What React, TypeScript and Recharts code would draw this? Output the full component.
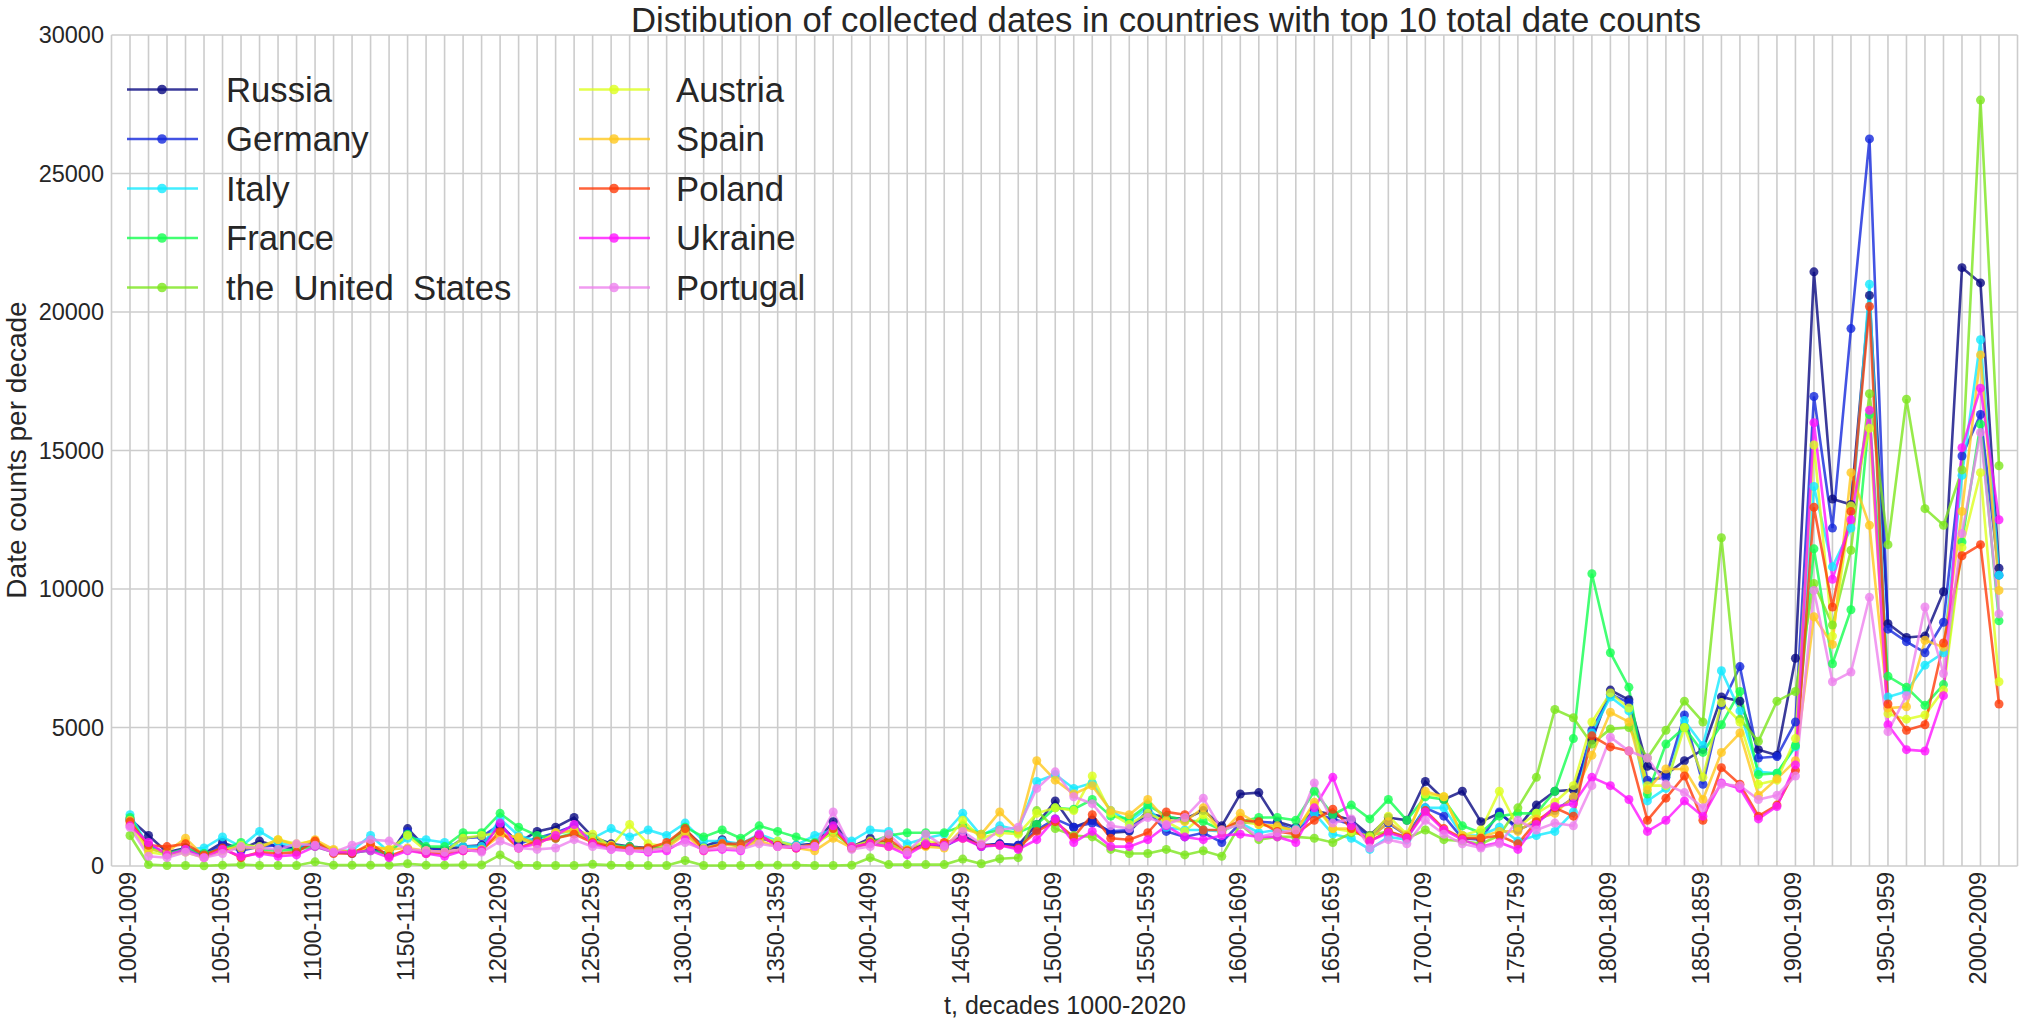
import React from 'react';
import { LineChart, Line, XAxis, YAxis, CartesianGrid, Legend } from 'recharts';

const DECADES: number[] = Array.from({ length: 102 }, (_, i) => 1000 + 10 * i);
const DECADE_LABELS: string[] = DECADES.map((d) => `${d}-${d + 9}`);

const SERIES_NAMES = ['Russia', 'Germany', 'Italy', 'France', 'the United States', 'Austria', 'Spain', 'Poland', 'Ukraine', 'Portugal'];
const SERIES_COLORS = ['#0a0a82', '#1428dc', '#14eaff', '#14ff50', '#7de61e', '#ddff1e', '#ffc81e', '#ff3c0a', '#ff14ff', '#ee82ee'];

const russia = [1700,1100,500,650,450,850,600,900,700,650,850,500,500,650,400,1350,650,600,700,750,1450,850,1250,1400,1750,1050,800,700,650,700,1300,700,950,650,1100,800,750,800,1600,700,1000,800,600,800,750,1100,750,800,750,1500,2350,1400,1650,1200,1250,1900,1750,1700,2000,1450,2600,2650,1600,1400,2000,1850,1650,1100,1750,1650,3050,2400,2700,1600,1900,1400,2200,2700,2750,4550,6350,6000,3600,3300,3800,4200,6100,5950,4200,4000,7500,21450,13250,13050,20600,8750,8250,8300,9900,21600,21050,10750];
const germany = [1650,750,450,550,400,750,550,700,750,600,800,500,450,600,450,1250,600,550,1000,1050,1500,800,1000,1200,1450,900,700,650,600,700,1200,650,850,700,1000,850,700,800,1400,650,850,800,550,800,700,1050,700,800,750,1300,1700,1400,1550,1250,1300,2000,1250,1050,1200,850,1550,1600,1550,1250,1900,1700,1500,1050,1550,1100,2100,1800,1000,950,1950,1300,1600,2000,2450,4900,6200,5900,3100,3200,5450,2950,5800,7200,3900,3950,5200,16950,12200,19400,26250,8550,8100,7700,8800,14800,16300,10500];
const italy = [1850,700,400,600,650,1050,700,1250,850,700,850,550,550,1100,500,1000,950,850,700,700,1700,1100,900,1150,1300,1000,1350,1050,1300,1100,1550,900,900,800,1150,900,750,1100,1300,900,1300,1250,800,1000,1150,1900,1100,1450,1300,3050,3300,2800,3000,2000,1600,2100,1400,1300,1300,1250,1550,1200,1300,1350,1900,1150,1000,600,1050,950,2100,2100,1100,1100,1400,900,1100,1250,1950,4800,6100,5600,2350,2800,5250,4350,7050,5600,3400,3350,4300,13700,10800,12200,21000,6100,6300,7250,7700,14100,19000,10500];
const france = [1750,650,450,600,450,600,850,600,550,600,700,500,500,550,450,1150,700,700,1200,1200,1900,1400,1100,1000,1200,950,750,700,600,750,1400,1050,1300,1000,1450,1250,1050,850,1200,700,850,1100,1200,1200,1200,1450,1150,1300,1200,1500,2100,2050,2400,1800,1700,2200,1800,1650,1600,1300,1600,1750,1750,1650,2700,1850,2200,1700,2400,1650,2500,2400,1450,1200,1800,1900,1900,2700,4600,10550,7700,6450,2600,4400,5000,4100,5100,6300,3300,3350,4350,11450,7300,9250,16300,6850,6450,5800,6550,11700,15950,8850];
const unitedStates = [1100,50,20,20,10,30,50,20,20,20,150,30,30,30,30,80,30,30,40,40,400,30,20,20,20,60,30,20,20,20,200,20,20,20,30,30,30,20,20,30,300,50,50,50,50,250,80,260,300,2000,1350,1100,1050,600,450,450,600,400,550,350,1500,950,1050,1050,1000,850,1200,1100,1250,1000,1300,950,900,800,1100,2100,3200,5650,5350,4400,4950,5000,3900,4900,5950,5200,11850,5300,4500,5950,6300,10200,8700,11400,17050,11600,16850,12900,12300,14300,27650,14450];
const austria = [1500,500,400,500,300,550,750,700,950,800,900,550,500,700,600,1100,550,500,1000,1100,1200,1000,750,1200,1250,1150,700,1500,800,700,1250,650,800,700,1000,900,700,750,1250,700,900,800,600,900,800,1650,1000,1200,1150,1900,2100,2000,3250,1900,1500,1900,1600,1250,1850,1250,1600,1500,1400,1300,2200,1350,1250,1050,1800,1150,2600,2500,1100,1300,2700,1400,1900,2300,2900,5200,6250,5700,2900,2900,5000,3200,5900,5200,2950,3100,4600,15200,8300,13000,15800,5500,5300,5450,6350,11500,14200,6650];
const spain = [1650,600,500,1000,350,600,650,650,950,750,950,600,500,700,600,650,550,500,600,600,1100,1050,800,1200,1300,900,750,600,600,650,1150,550,650,650,900,700,650,550,1000,650,800,700,550,700,650,1350,1150,1950,1300,3800,3100,2600,2900,2000,1850,2400,1650,1600,2100,1200,1900,1500,1450,1250,2300,1350,1350,950,1600,1100,2700,2500,1100,1050,1250,1250,1700,1900,2500,4000,5550,5200,2750,3500,3500,2400,4100,4800,2550,3150,3800,9000,8000,14200,12300,5700,5750,8150,7900,12800,18450,9950];
const poland = [1600,750,700,800,400,650,300,500,450,500,900,450,450,800,350,600,450,450,550,550,1250,650,900,1000,1150,850,700,650,650,850,1350,600,800,800,1100,750,650,800,1350,650,850,950,550,750,850,1000,750,750,650,1250,1600,1050,1850,1000,950,1200,1950,1850,1300,1300,1650,1600,1250,1150,1650,2050,1350,900,1250,1050,2000,1350,1000,1000,1100,800,1600,2100,1800,4700,4300,4150,1650,2450,3250,1650,3550,2950,1800,2200,3450,12950,9350,12800,20200,5850,4900,5100,8050,11200,11600,5850];
const ukraine = [1450,850,400,600,300,600,350,450,350,400,700,500,500,550,300,550,450,350,550,550,1550,650,800,1100,1500,800,600,550,500,550,950,550,600,550,1150,700,650,700,1450,700,800,700,400,800,750,1000,700,750,600,950,1700,850,1250,700,700,950,1450,1050,950,1100,1150,1050,1050,850,2100,3200,1450,900,1200,1000,1950,1300,950,700,850,600,1500,2150,2250,3200,2900,2400,1250,1650,2350,1800,3000,2800,1700,2150,3650,16000,10350,12500,16450,5100,4200,4150,6150,15100,17250,12500];
const portugal = [1400,350,300,500,300,450,700,650,600,800,750,500,750,950,900,600,550,500,600,500,900,650,600,650,950,700,600,550,550,650,850,600,650,600,800,700,700,700,1950,600,700,1150,500,1150,700,1250,800,1300,1400,2800,3400,2500,2250,1450,1350,1750,1500,1750,2450,1300,1500,1050,1200,1300,3000,1550,1700,650,950,800,1650,1150,800,650,800,1650,1300,1550,1450,2900,4650,4150,3900,2950,2650,2100,2950,2900,2400,2550,3250,9950,6650,7000,9700,4850,6150,9350,6950,12000,15650,9100];

const SERIES_VALUES = [russia, germany, italy, france, unitedStates, austria, spain, poland, ukraine, portugal];
const KEYS = ['s0', 's1', 's2', 's3', 's4', 's5', 's6', 's7', 's8', 's9'];

const Y_TICKS = [0, 5000, 10000, 15000, 20000, 25000, 30000];
const X_TICKS: number[] = Array.from({ length: 104 }, (_, k) => k - 1);

const data = DECADES.map((d, i) => {
  const row: Record<string, number> = { i };
  SERIES_VALUES.forEach((arr, s) => {
    row[KEYS[s]] = arr[i];
  });
  return row;
});

const FONT = "'Liberation Sans', Arial, Helvetica, sans-serif";
const TEXT = '#262626';

const XTick = (props: any) => {
  const { x, payload } = props;
  const v = payload.value;
  if (v < 0 || v > 100 || v % 5 !== 0) return null;
  const px = x + 6;
  const py = 872;
  return (
    <text x={px} y={py} transform={`rotate(-90 ${px} ${py})`} textAnchor="end" fontSize={23.5} fill={TEXT} fontFamily={FONT}>
      {DECADE_LABELS[v]}
    </text>
  );
};

const YTick = (props: any) => {
  const { y, payload } = props;
  return (
    <text x={104} y={y} textAnchor="end" dominantBaseline="central" fontSize={23.5} fill={TEXT} fontFamily={FONT}>
      {payload.value}
    </text>
  );
};

const LEGEND_ROWS = [89.5, 139, 188.5, 238, 287.5];
const LEGEND_COLS = [
  { x1: 127, x2: 198, dot: 162, tx: 226 },
  { x1: 579, x2: 650, dot: 614, tx: 676 },
];

const renderLegend = () => (
  <svg width={2036} height={330} style={{ display: 'block' }}>
    <text x={1166} y={31.6} textAnchor="middle" fontSize={34.7} fill={TEXT} fontFamily={FONT}>
      Distibution of collected dates in countries with top 10 total date counts
    </text>
    {SERIES_NAMES.map((name, s) => {
      const col = LEGEND_COLS[Math.floor(s / 5)];
      const y = LEGEND_ROWS[s % 5];
      const c = SERIES_COLORS[s];
      return (
        <g key={name}>
          <line x1={col.x1} x2={col.x2} y1={y} y2={y} stroke={c} strokeOpacity={0.8} strokeWidth={2.7} />
          <circle cx={col.dot} cy={y} r={4.8} fill={c} fillOpacity={0.8} />
          <text x={col.tx} y={y} dominantBaseline="central" fontSize={34.7} fill={TEXT} fontFamily={FONT}>
            {name.replace(/ /g, '\u00a0\u00a0')}
          </text>
        </g>
      );
    })}
  </svg>
);

export default function App() {
  return (
    <div style={{ position: 'absolute', left: 0, top: 0, width: 2036, height: 1020, background: '#ffffff', fontFamily: FONT }}>
      <LineChart width={2036} height={1020} data={data} margin={{ top: 35, right: 18.5, bottom: 0, left: 0 }}>
        <CartesianGrid stroke="#cccccc" strokeWidth={1.6} />
        <XAxis
          dataKey="i"
          type="number"
          domain={[-1, 102]}
          ticks={X_TICKS}
          interval={0}
          height={154}
          axisLine={false}
          tickLine={false}
          tick={<XTick />}
          allowDecimals={false}
          label={{
            content: () => (
              <text x={1065} y={1005} textAnchor="middle" dominantBaseline="central" fontSize={25} fill={TEXT} fontFamily={FONT}>
                t, decades 1000-2020
              </text>
            ),
          }}
        />
        <YAxis
          type="number"
          domain={[0, 30000]}
          ticks={Y_TICKS}
          interval={0}
          width={111.5}
          axisLine={false}
          tickLine={false}
          tick={<YTick />}
          label={{
            content: () => (
              <text x={16} y={450} transform="rotate(-90 16 450)" textAnchor="middle" dominantBaseline="central" fontSize={28} fill={TEXT} fontFamily={FONT}>
                Date counts per decade
              </text>
            ),
          }}
        />
        <Legend
          layout="vertical"
          align="center"
          verticalAlign="middle"
          content={renderLegend}
          wrapperStyle={{ position: 'absolute', left: 0, top: 0, width: 2036, height: 330, pointerEvents: 'none' }}
        />
        {KEYS.map((k, s) => (
          <Line
            key={k}
            dataKey={k}
            name={SERIES_NAMES[s]}
            type="linear"
            stroke={SERIES_COLORS[s]}
            strokeOpacity={0.8}
            strokeWidth={2.6}
            dot={{ r: 4.5, fill: SERIES_COLORS[s], fillOpacity: 0.8, stroke: 'none' }}
            activeDot={false}
            isAnimationActive={false}
          />
        ))}
      </LineChart>
    </div>
  );
}
